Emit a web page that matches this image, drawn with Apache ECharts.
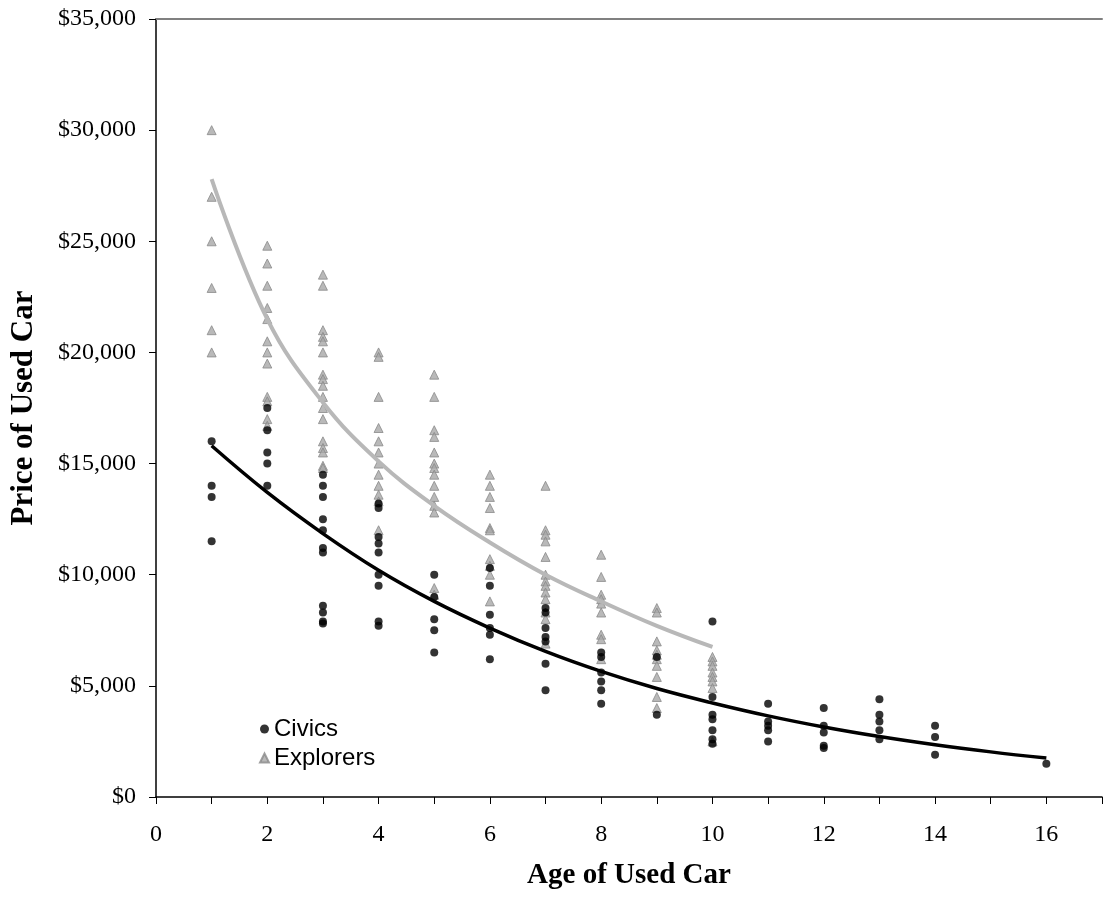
<!DOCTYPE html>
<html>
<head>
<meta charset="utf-8">
<script src="https://cdn.jsdelivr.net/npm/echarts@6/dist/echarts.min.js"></script>
<style>
  html, body { margin: 0; padding: 0; background: #fff; }
  #chart { width: 1105px; height: 899px; }
</style>
</head>
<body>
<div id="chart"></div>
<script>
// prices, grouped by age of car
var civicsAges = [1, 2, 3, 4, 5, 6, 7, 8, 9, 10, 11, 12, 13, 14, 16]
var civicsPrices = [
  [16000, 14000, 13500, 11500],
  [17500, 16500, 15500, 15000, 14000],
  [14500, 14000, 13500, 12500, 12000, 11200, 11000, 8600, 8300, 7900, 7800],
  [13200, 13000, 11700, 11400, 11000, 10000, 9500, 7900, 7700],
  [10000, 9000, 8000, 7500, 6500],
  [10300, 9500, 8200, 7600, 7300, 6200],
  [8500, 8300, 7600, 7200, 7000, 6000, 4800],
  [6500, 6300, 5600, 5200, 4800, 4200],
  [6300, 3700],
  [7900, 4500, 3700, 3500, 3000, 2600, 2400],
  [4200, 3400, 3200, 3000, 2500],
  [4000, 3200, 2900, 2300, 2200],
  [4400, 3700, 3400, 3000, 2600],
  [3200, 2700, 1900],
  [1500]
]
var explorersAges = [1, 2, 3, 4, 5, 6, 7, 8, 9, 10]
var explorersPrices = [
  [30000, 27000, 25000, 22900, 21000, 20000],
  [24800, 24000, 23000, 22000, 21500, 20500, 20000, 19500, 18000, 17800, 17000, 16700],
  [23500, 23000, 21000, 20700, 20500, 20000, 19000, 18800, 18500, 18000, 17500, 17000, 16000, 15700, 15500, 14900, 14800],
  [20000, 19800, 18000, 16600, 16000, 15500, 15000, 14500, 14000, 13600, 13300, 12000],
  [19000, 18000, 16500, 16200, 15500, 15000, 14800, 14500, 14000, 13500, 13100, 12800, 9400, 9100],
  [14500, 14000, 13500, 13000, 12100, 12000, 10700, 10400, 10000, 8800],
  [14000, 12000, 11800, 11500, 10800, 10000, 9700, 9500, 9200, 8900, 8300, 8000, 6900],
  [10900, 9900, 9100, 8900, 8700, 8300, 7300, 7100, 6200],
  [8500, 8300, 7000, 6600, 6400, 6200, 5900, 5400, 4500, 4000],
  [6300, 6100, 5900, 5600, 5400, 5200, 4900, 2500]
]
// trend lines, read at each whole year
var civicsTrendAges = [1, 2, 3, 4, 5, 6, 7, 8, 9, 10, 11, 12, 13, 14, 15, 16]
var civicsTrend = [15800, 13700, 11850, 10200, 8800, 7600, 6550, 5650, 4880, 4230, 3650, 3150, 2720, 2350, 2030, 1750]
var explorersTrendAges = [1, 2, 3, 4, 5, 6, 7, 8, 9, 10]
var explorersTrend = [27800, 21500, 17750, 15100, 13100, 11450, 10000, 8800, 7700, 6750]

var xTickLabels = ['0', '2', '4', '6', '8', '10', '12', '14', '16']
var yTickLabels = ['$0', '$5,000', '$10,000', '$15,000', '$20,000', '$25,000', '$30,000', '$35,000']

function toPoints(ages, groups) {
  var pts = []
  for (var i = 0; i < ages.length; i++) {
    for (var j = 0; j < groups[i].length; j++) {
      pts.push([ages[i], groups[i][j]])
    }
  }
  return pts
}
function zip(xs, ys) {
  return xs.map(function(x, i) { return [x, ys[i]] })
}

var serif = "'Liberation Serif', 'Times New Roman', serif"
var chart = echarts.init(document.getElementById('chart'), null, { renderer: 'canvas' })
chart.setOption({
  animation: false,
  backgroundColor: '#fff',
  grid: { left: 152, right: 0, top: 19, bottom: 102 },
  legend: {
    data: ['Civics', 'Explorers'],
    orient: 'vertical',
    left: 254,
    top: 710,
    itemWidth: 9,
    itemHeight: 9,
    itemGap: 1,
    textStyle: { fontFamily: "'Liberation Sans', Arial, sans-serif", fontSize: 24, color: '#000', lineHeight: 28 }
  },
  xAxis: [{
    type: 'value',
    min: 0,
    max: 17,
    interval: 1,
    name: 'Age of Used Car',
    nameLocation: 'middle',
    nameGap: 64,
    nameTextStyle: { fontFamily: serif, fontSize: 29, fontWeight: 'bold', color: '#000' },
    axisLine: { lineStyle: { color: '#000', width: 1.5 } },
    axisTick: { inside: false, length: 7, lineStyle: { color: '#000' } },
    axisLabel: {
      margin: 26,
      fontFamily: serif,
      fontSize: 24,
      color: '#000',
      formatter: function(v) {
        var k = xTickLabels.indexOf(String(v))
        return k >= 0 ? xTickLabels[k] : ''
      }
    },
    splitLine: { show: false }
  }, {
    type: 'value',
    position: 'top',
    min: 0,
    max: 17,
    axisLine: { show: true, lineStyle: { color: '#808080', width: 2 } },
    axisTick: { show: false },
    axisLabel: { show: false },
    splitLine: { show: false }
  }],
  yAxis: {
    type: 'value',
    min: 0,
    max: 35000,
    interval: 5000,
    name: 'Price of Used Car',
    nameLocation: 'middle',
    nameGap: 117,
    nameTextStyle: { fontFamily: serif, fontSize: 31, fontWeight: 'bold', color: '#000' },
    axisLine: { show: true, lineStyle: { color: '#000', width: 1.5 } },
    axisTick: { show: true, inside: false, length: 7, lineStyle: { color: '#000' } },
    axisLabel: {
      margin: 20,
      fontFamily: serif,
      fontSize: 24,
      color: '#000',
      formatter: function(v) { return yTickLabels[Math.round(v / 5000)] }
    },
    splitLine: { show: false }
  },
  series: [
    {
      name: 'Explorers',
      type: 'scatter',
      symbol: 'triangle',
      symbolSize: 9,
      itemStyle: { color: '#a8a8a8', borderColor: '#8a8a8a', borderWidth: 1 },
      data: toPoints(explorersAges, explorersPrices),
      z: 2
    },
    {
      name: 'Civics',
      type: 'scatter',
      symbol: 'circle',
      symbolSize: 8,
      itemStyle: { color: '#000' },
      data: toPoints(civicsAges, civicsPrices),
      z: 3
    },
    {
      name: 'Explorers trend',
      type: 'line',
      smooth: 0.4,
      showSymbol: false,
      lineStyle: { color: '#b8b8b8', width: 4 },
      data: zip(explorersTrendAges, explorersTrend),
      z: 4
    },
    {
      name: 'Civics trend',
      type: 'line',
      smooth: 0.4,
      showSymbol: false,
      lineStyle: { color: '#000', width: 3.5 },
      data: zip(civicsTrendAges, civicsTrend),
      z: 5
    }
  ]
})
</script>
</body>
</html>
